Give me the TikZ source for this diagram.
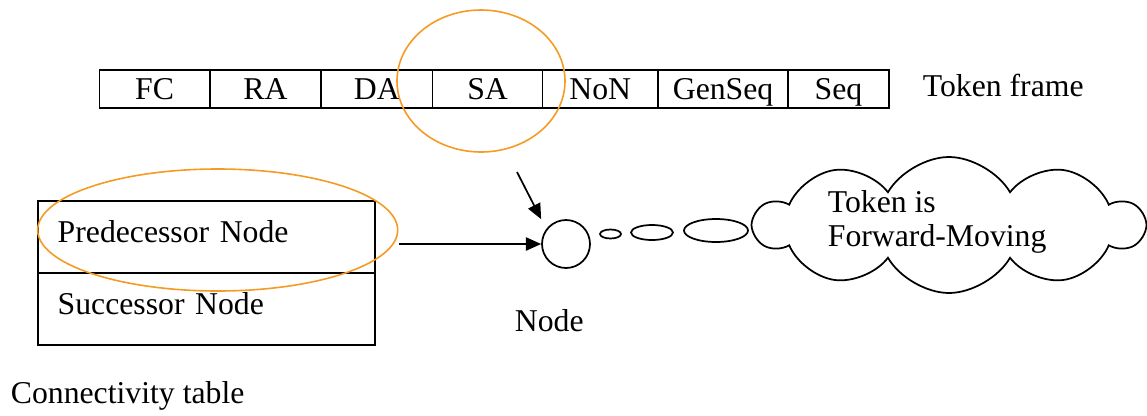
\documentclass[tikz,border=0pt]{standalone}
\usepackage{fontspec}
\setmainfont{Liberation Serif}
\usetikzlibrary{chains,calc,positioning,shapes.geometric,shapes.symbols,arrows.meta}
\definecolor{markorange}{RGB}{245,155,35}
\newcommand\diagfont{\fontsize{23.8pt}{25.5pt}\selectfont}

\begin{document}
\begin{tikzpicture}[x=0.75pt,y=-0.75pt,line width=1.3pt,font=\diagfont]
  \useasboundingbox (0,0) rectangle (1147,415);
  \coordinate (frame) at (99.4,89.3);
  \begin{scope}[
    every node/.style={
      on chain,
      draw,
      inner sep=0pt,
      outer sep=0pt,
      minimum height=28.5pt,
      text depth=0pt,
    },
    start chain=going right,
    node distance=0pt,
    ]
    \node[anchor=west,minimum width=82.8pt] (fc) at (frame) {FC};
    \node[minimum width=83.4pt] (ra)     {RA};
    \node[minimum width=83.7pt] (da)     {DA};
    \node[minimum width=82.4pt] (sa)     {SA};
    \node[minimum width=86.7pt] (non)    {NoN};
    \node[minimum width=97.5pt] (genseq) {GenSeq};
    \node[minimum width=75.5pt] (seq)    {Seq};
  \end{scope}
  \node[anchor=base west,inner sep=0pt] (framelabel) at (922,96) {Token frame};
  \begin{scope}[
    every node/.style={
      on chain,
      draw,
      align=left,
      text width=222.75pt,
      inner xsep=15pt,
      inner ysep=0pt,
      outer sep=0pt,
      minimum height=54pt,
      text depth=8pt,
    },
    start chain=going below,
    node distance=0pt,
    ]
    \node[anchor=north west] (predrow) at (37.7,201) {Predecessor Node};
    \node (succrow) {Successor Node};
  \end{scope}
  \node[anchor=base west,inner sep=0pt] (tablelabel) at (10,403) {Connectivity table};
  \node[circle,draw,minimum size=36pt,inner sep=0pt] (nodecircle) at (566,244) {};
  \node[anchor=base west,inner sep=0pt] (nodelabel) at (514,331) {Node};
  \begin{scope}[every node/.style={ellipse,draw,inner sep=0pt}]
    \node[minimum width=15.75pt,minimum height=6.75pt]  (bubble1) at (610.5,234) {};
    \node[minimum width=31.5pt,minimum height=11.25pt]  (bubble2) at (652,232.5) {};
    \node[minimum width=48pt,minimum height=17.25pt]    (bubble3) at (716,230.5) {};
  \end{scope}
  \node[cloud,draw,cloud puffs=10,cloud puff arc=120,cloud ignores aspect,
    minimum width=291pt,minimum height=102pt,inner sep=0pt]
    (thought) at (949,225) {};
  \node[anchor=base west,align=left,inner sep=0pt] (thoughttext)
    at ($(thought.center)+(-122,21.7)$) {Token is\\Forward-Moving};
  \begin{scope}[every node/.style={ellipse,draw=markorange,line width=1.2pt,inner sep=0pt}]
    \node[minimum width=126pt,minimum height=106.5pt] (samark)   at (481,81)    {};
    \node[minimum width=270pt,minimum height=91.5pt]  (predmark) at (217.7,230) {};
  \end{scope}
  \coordinate (sapointer) at (517,172);
  \begin{scope}[
    >={Triangle[length=11.5pt,width=10pt]},
    ]
    \path[->]
    (predmark.east |- nodecircle.west) edge (nodecircle.west)
    (sapointer) edge (nodecircle.west |- nodecircle.north);
  \end{scope}
\end{tikzpicture}
\end{document}
